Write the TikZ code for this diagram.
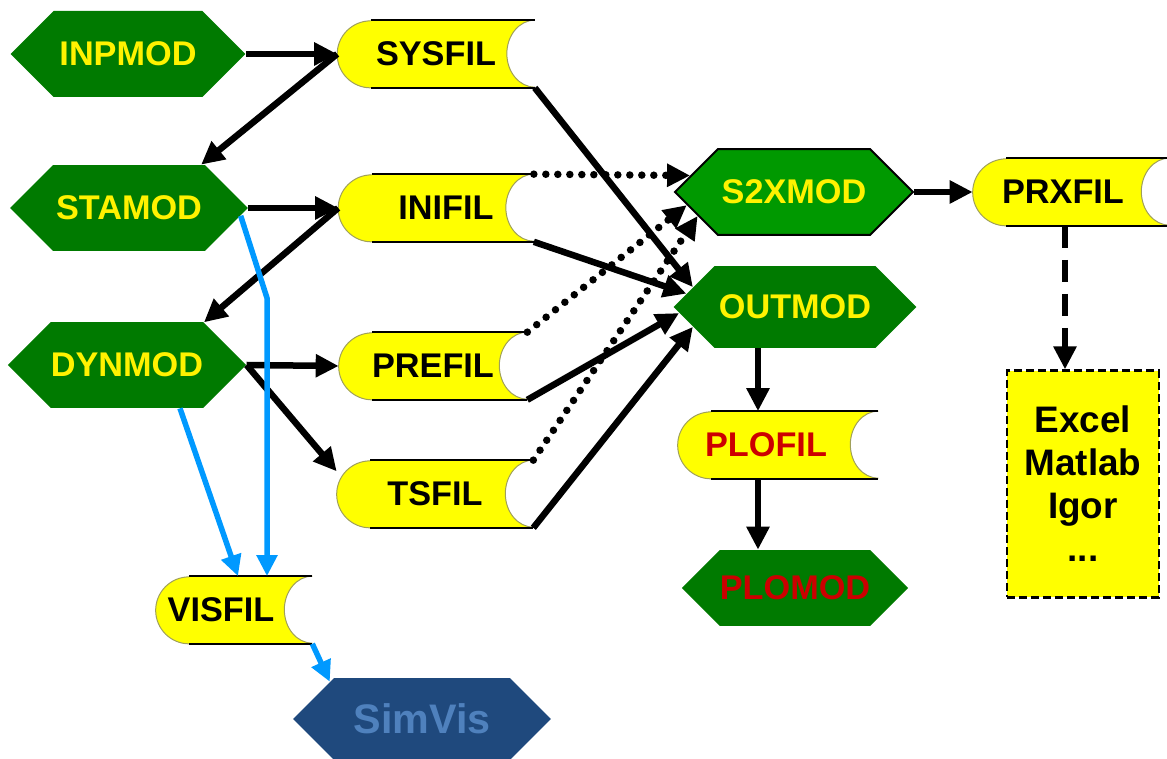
\documentclass[tikz,border=0pt]{standalone}
\usepackage{fontspec}
\setmainfont{Liberation Sans}
\usetikzlibrary{shapes.symbols,arrows.meta,backgrounds}

\definecolor{modgreen}{RGB}{0,122,0}
\definecolor{s2xgreen}{RGB}{0,153,0}
\definecolor{filyellow}{RGB}{255,255,0}
\definecolor{plored}{RGB}{204,0,0}
\definecolor{visblue}{RGB}{0,153,255}
\definecolor{simfill}{RGB}{31,73,125}
\definecolor{simtext}{RGB}{79,129,189}
\definecolor{curveline}{RGB}{160,160,90}

\tikzset{
  modhex/.style={signal, signal to=east and west, signal pointer angle=90,
    fill=modgreen, text=yellow, inner sep=0pt, minimum width=4.7cm,
    minimum height=1.72cm, font=\bfseries\fontsize{19.5}{23}\selectfont},
  datfil/.style={rectangle, inner sep=0pt, minimum height=1.34cm,
    text=black, font=\bfseries\fontsize{19.5}{23}\selectfont},
  extbox/.style={rectangle, fill=filyellow, draw=black, line width=0.045cm,
    dash pattern=on 0.16cm off 0.08cm, minimum width=3.04cm,
    minimum height=4.54cm, align=center,
    font=\bfseries\fontsize{21}{24.5}\selectfont},
  flow/.style={-{Triangle[length=0.46cm,width=0.44cm]}, line width=0.13cm},
  dotflow/.style={flow, line width=0.15cm, line cap=round,
    dash pattern=on 0pt off 0.24cm},
  visflow/.style={-{Triangle[length=0.42cm,width=0.4cm]}, line width=0.11cm, visblue},
}

\begin{document}
\begin{tikzpicture}[x=0.02cm,y=-0.02cm]
    \useasboundingbox (0,0) rectangle (1167,759);
    % Các module
    \node[modhex] (inpmod) at (128,54) {INPMOD};
    \node[modhex,minimum width=4.76cm] (stamod) at (129,208) {STAMOD};
    \node[modhex] (dynmod) at (127,365) {DYNMOD};
    \node[modhex,minimum width=4.76cm,fill=s2xgreen,draw=black,line width=0.04cm] (s2xmod) at (794,192) {S2XMOD};
    \node[modhex,minimum width=4.86cm,minimum height=1.64cm] (outmod) at (795,307) {OUTMOD};
    \node[modhex,minimum width=4.3cm,minimum height=1.52cm,text=plored] (plomod) at (795,588) {PLOMOD};
    \node[modhex,minimum width=5.16cm,minimum height=1.64cm,fill=simfill,text=simtext,
        font=\bfseries\fontsize{23.5}{28}\selectfont] (simvis) at (422,719) {SimVis};

    % Các tệp dữ liệu
    \node[datfil,minimum width=3.94cm] (sysfil) at (436,54) {SYSFIL};
    \node[datfil,minimum width=3.9cm] (inifil) at (436,208) {\hspace*{0.4cm}INIFIL};
    \node[datfil,minimum width=3.76cm] (prefil) at (433,366) {PREFIL};
    \node[datfil,minimum width=3.92cm] (tsfil) at (435,494) {TSFIL};
    \node[datfil,minimum width=3.92cm] (prxfil) at (1071,192) {PRXFIL\hspace*{0.32cm}};
    \node[datfil,minimum width=4cm,text=plored] (plofil) at (778,445) {PLOFIL\hspace*{0.48cm}};
    \node[datfil,minimum width=3.12cm] (visfil) at (234,610) {VISFIL\hspace*{0.52cm}};
    \node[extbox] (excel) at (1083,484) {Excel\\Matlab\\Igor\\...};

    % Vẽ hình tệp ở lớp nền
    \begin{scope}[on background layer]
    \foreach \f in {sysfil,inifil,prefil,tsfil,prxfil,plofil,visfil}{
        \fill[filyellow] ([xshift=0.67cm]\f.north west) -- (\f.north east)
            arc[start angle=90,end angle=270,x radius=0.56cm,y radius=0.67cm]
            -- ([xshift=0.67cm]\f.south west)
            arc[start angle=270,end angle=90,radius=0.67cm] -- cycle;
        \draw[curveline,line width=0.02cm] ([xshift=0.67cm]\f.south west)
            arc[start angle=270,end angle=90,radius=0.67cm];
        \draw[curveline,line width=0.02cm] (\f.north east)
            arc[start angle=90,end angle=270,x radius=0.56cm,y radius=0.67cm];
        \draw[line width=0.045cm] ([xshift=0.67cm]\f.north west) -- (\f.north east);
        \draw[line width=0.045cm] ([xshift=0.67cm]\f.south west) -- (\f.south east);
    }
    \end{scope}

    % Mũi tên đen
    \draw[flow] (inpmod.east) -- (sysfil.west);
    \draw[flow] (sysfil.west) -- (stamod.31);
    \draw[flow] (stamod.east) -- (inifil.west);
    \draw[flow] (inifil.west) -- (dynmod.29);
    \draw[flow] (dynmod.east) -- (prefil.west);
    \draw[flow] (dynmod.east) -- (tsfil.167);
    \draw[flow] (sysfil.south east) -- (outmod.169);
    \draw[flow] (inifil.south east) -- (outmod.173);
    \draw[flow] (prefil.south east) -- (outmod.183);
    \draw[flow] (tsfil.south east) -- (outmod.191);
    \draw[flow] (s2xmod.east) -- (prxfil.west);
    \draw[flow] ([xshift=-0.4cm]plofil.north |- outmod.south) -- ([xshift=-0.4cm]plofil.north);
    \draw[flow] ([xshift=-0.4cm]plofil.south) -- ([xshift=-0.4cm]plofil.south |- plomod.north);
    \draw[flow,dash pattern=on 0.44cm off 0.24cm] ([xshift=-0.12cm]prxfil.south)
        -- ([xshift=-0.12cm]prxfil.south |- excel.north);

    % Mũi tên chấm
    \draw[dotflow] (inifil.north east) -- (s2xmod.171);
    \draw[dotflow] (prefil.north east) -- (s2xmod.187);
    \draw[dotflow] (tsfil.north east) -- (s2xmod.194);

    % Mũi tên xanh
    \coordinate (kink) at (267,298);
    \draw[visflow] (stamod.-4) -- (kink) -- (kink |- visfil.north);
    \draw[visflow] ([xshift=1.06cm]dynmod.south) -- ([xshift=0.08cm]visfil.north);
    \draw[visflow] (visfil.south east) -- (simvis.158);
\end{tikzpicture}
\end{document}
